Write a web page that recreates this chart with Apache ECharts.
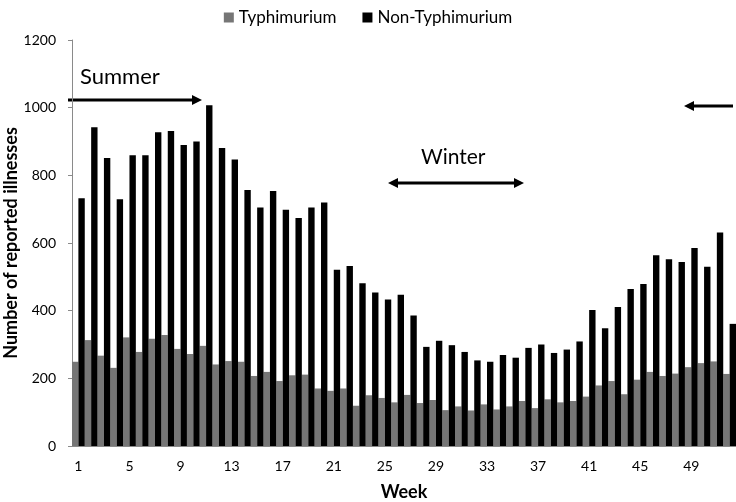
<!DOCTYPE html>
<html><head><meta charset="utf-8">
<script src="https://cdn.jsdelivr.net/npm/echarts@6/dist/echarts.min.js"></script>
<style>html,body{margin:0;padding:0;background:#fff}#c{width:736px;height:502px}</style>
</head><body><div id="c"></div>
<script>
const weeks = Array.from({length:52},(_,i)=>String(i+1));
const typhimurium = [249,313,267,231,321,278,317,328,287,272,296,241,251,249,207,219,192,209,211,170,163,170,119,150,142,129,151,127,136,106,117,105,123,108,117,133,112,138,129,133,146,179,192,153,196,219,207,214,233,245,250,213];
const nonTyphimurium = [732,942,851,729,859,859,927,931,890,900,1007,881,847,757,705,754,698,674,705,720,521,532,481,454,433,447,386,293,311,298,278,253,249,269,261,290,300,275,285,309,402,348,411,464,479,564,552,544,585,530,631,361];
const yTicks = [0,200,400,600,800,1000,1200];

const F = 'Lato, "Open Sans", sans-serif';
const chart = echarts.init(document.getElementById('c'));
function arrowHead(x, y, dir){ // dir: 1 right, -1 left
  return {type:'polygon', shape:{points:[[x,y],[x-dir*10,y-5],[x-dir*10,y+5]]}, style:{fill:'#000'}};
}
chart.setOption({
  animation:false,
  textStyle:{fontFamily:F},
  legend:{top:4,left:'center',itemWidth:10,itemHeight:10,itemGap:26,icon:'rect',
    textStyle:{fontFamily:F,fontSize:17,color:'#000'},
    data:['Typhimurium','Non-Typhimurium']},
  grid:{left:72,right:0,top:40,bottom:56,containLabel:false,outerBoundsMode:'none'},
  xAxis:{type:'category',data:weeks,boundaryGap:true,
    name:'Week',nameLocation:'middle',nameGap:37,nameMoveOverlap:false,
    nameTextStyle:{fontFamily:F,fontSize:18,fontWeight:'bold',color:'#000'},
    axisLine:{lineStyle:{color:'#8a8a8a'}},
    axisTick:{interval:1,length:5,lineStyle:{color:'#8a8a8a'}},
    axisLabel:{interval:3,margin:13,fontSize:14,color:'#000',fontFamily:F}},
  yAxis:{type:'value',min:0,max:1200,interval:200,
    name:'Number of reported illnesses',nameLocation:'middle',nameGap:52,nameMoveOverlap:false,
    nameTextStyle:{fontFamily:F,fontSize:18,fontWeight:'bold',color:'#000'},
    axisLine:{show:true,lineStyle:{color:'#8a8a8a'}},
    axisTick:{show:true,length:4,lineStyle:{color:'#8a8a8a'}},
    splitLine:{show:false},
    axisLabel:{margin:16,fontSize:14,color:'#000',fontFamily:F,
      formatter:v=>yTicks.includes(v)?String(v):''}},
  series:[
    {name:'Typhimurium',type:'bar',data:typhimurium,itemStyle:{color:'#767676'},barGap:'0%',barCategoryGap:'0%'},
    {name:'Non-Typhimurium',type:'bar',data:nonTyphimurium,itemStyle:{color:'#000000'},barGap:'0%',barCategoryGap:'0%'}
  ],
  graphic:[
    {type:'text',left:80,top:66,style:{text:'Summer',font:'22px '+F,fill:'#000'}},
    {type:'line',shape:{x1:68,y1:100,x2:194,y2:100},style:{stroke:'#000',lineWidth:3}},
    arrowHead(202,100,1),
    {type:'text',left:421,top:147,style:{text:'Winter',font:'21px '+F,fill:'#000'}},
    {type:'line',shape:{x1:396,y1:183,x2:516,y2:183},style:{stroke:'#000',lineWidth:3}},
    arrowHead(388,183,-1),
    arrowHead(524,183,1),
    {type:'line',shape:{x1:692,y1:106,x2:733,y2:106},style:{stroke:'#000',lineWidth:3}},
    arrowHead(684,106,-1)
  ]
});
</script></body></html>
